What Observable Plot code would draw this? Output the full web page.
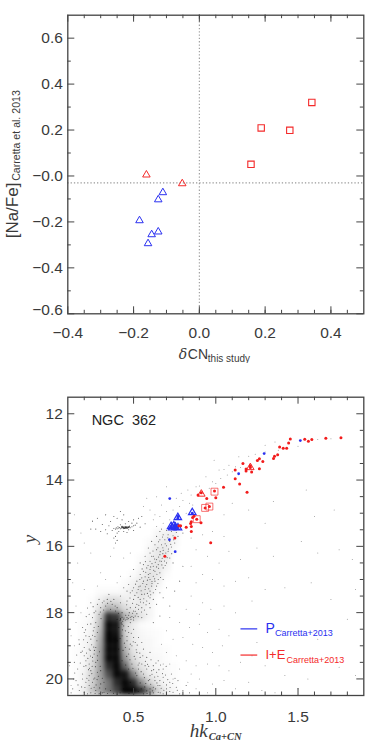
<!DOCTYPE html>
<html><head><meta charset="utf-8">
<script src="https://cdn.jsdelivr.net/npm/d3@7"></script>
<script src="https://cdn.jsdelivr.net/npm/@observablehq/plot@0.6"></script>
<style>html,body{margin:0;padding:0;background:#fff;width:374px;height:748px;overflow:hidden}
svg{position:absolute;left:0;background:transparent;max-width:none}</style>
</head><body>
<div id="a"></div><div id="b"></div>
<script>
// ---- upper panel
const topRedSquares=[[.342,.32],[.188,.209],[.275,.199],[.157,.051]];
const topRedTriangles=[[-.161,.005],[-.052,-.033]];
const topBlueTriangles=[[-.111,-.072],[-.125,-.103],[-.182,-.194],[-.125,-.243],[-.145,-.255],[-.156,-.294]];
const topXTicks=[-.4,-.2,0,.2,.4];
const topYTicks=[.6,.4,.2,0,-.2,-.4];
// ---- lower panel: programme stars
const redStars=[[1.761,12.72],[1.669,12.74],[1.584,12.78],[1.563,12.83],[1.541,12.77],[1.453,12.76],[1.443,12.88],[1.431,13.04],[1.41,13.04],[1.388,13.0],[1.376,13.24],[1.357,13.28],[1.351,13.35],[1.286,13.44],[1.265,13.36],[1.253,13.41],[1.165,13.5],[1.21,13.57],[1.184,13.67],[1.184,13.73],[1.218,13.76],[1.265,13.66],[1.118,13.7],[1.118,13.96],[1.145,14.12],[1.19,14.37],[1.047,14.22],[1.0,14.53],[.992,14.33],[.945,14.56],[.912,14.38],[.892,14.45],[.935,14.84],[.961,14.8],[.884,15.18],[.867,15.09],[.91,15.29],[.859,15.13],[.851,15.26],[.847,15.31],[.851,15.4],[.82,15.42],[.851,15.55],[.776,15.38],[.786,15.38],[.751,15.75],[.969,15.89],[.69,16.3],[1.21,13.62]];
const blueStars=[[1.514,12.81],[1.294,13.2],[1.139,13.81],[.72,14.56],[.718,15.8],[.753,16.16],[.769,15.15],[.857,15.0],[.728,15.4],[.745,15.4],[.755,15.42],[.765,15.44],[.735,15.44],[.75,15.36],[.72,15.44],[.77,15.1]];
const cmdRedSquares=[[.992,14.35],[.935,14.84],[.961,14.8],[.884,15.18]];
const cmdRedTriangles=[[.912,14.42],[1.21,13.62]];
const cmdBlueTriangles=[[.769,15.13],[.857,14.98],[.728,15.4],[.745,15.38],[.755,15.42],[.77,15.44],[.735,15.44]];
// ---- lower panel: star density of the unresolved sequences
const densHk=[.15,.2,.25,.3,.35,.4,.45,.5,.55,.6,.65,.7,.75];
const densY=[15.625,15.875,16.125,16.375,16.625,16.875,17.125,17.375,17.625,17.875,18.125,18.375,18.625,18.875,19.125,19.375,19.625,19.875,20.125,20.375];
const densRows=[
[0,0,0,0,0,0,0,0,0,0,.04,.06,.06],
[0,0,0,0,0,0,0,0,0,.02,.06,.08,.04],
[0,0,0,0,0,0,0,0,0,.04,.09,.09,.02],
[0,0,0,0,0,0,0,0,.02,.06,.1,.08,0],
[0,0,0,0,0,0,0,0,.04,.09,.1,.05,0],
[0,0,0,0,0,0,0,.02,.06,.11,.09,.02,0],
[0,0,0,0,0,0,.02,.05,.1,.12,.05,0,0],
[0,0,0,.02,.02,.02,.04,.08,.12,.09,.02,0,0],
[0,0,.01,.06,.13,.13,.07,.06,.09,.05,0,0,0],
[0,0,.02,.12,.3,.26,.14,.08,.08,.04,0,0,0],
[0,.01,.03,.22,.85,.8,.3,.2,.1,.04,0,0,0],
[0,.02,.05,.25,1,.95,.18,.07,.02,.01,0,0,0],
[0,.02,.06,.3,1,.95,.18,.07,.03,.02,.01,0,0],
[0,.03,.08,.35,1,1,.22,.08,.04,.03,.01,0,0],
[.01,.03,.1,.38,1,1,.3,.1,.05,.03,.02,.01,0],
[.01,.03,.12,.38,1,1,.4,.14,.07,.04,.03,.01,0],
[.01,.04,.14,.38,.85,1,.6,.22,.1,.05,.03,.02,.01],
[.01,.05,.18,.38,.7,1,.95,.5,.18,.08,.05,.03,.01],
[.01,.05,.18,.38,.55,.85,1,.85,.45,.18,.08,.04,.02],
[.02,.07,.22,.38,.55,.75,1,1,.85,.5,.18,.07,.03]];
// ---- lower panel: individual faint stars, read region by region
const msScatter=[.2,18.6,.22,18.9,.18,19.2,.21,19.45,.16,19.7,.19,20.0,.23,20.2,.17,20.35,.24,19.75,.22,18.35,.25,18.15,.27,17.95,.28,17.75,.31,17.7,.34,17.6,.37,17.75,.4,17.85,.43,18.0,.44,18.4,.47,18.6,.46,18.85,.49,19.0,.52,19.2,.51,19.4,.55,19.55,.58,19.7,.6,19.9,.63,20.05,.66,20.2,.7,20.3,.74,20.4,.78,20.45,.24,18.8,.26,19.25,.27,19.5,.25,20.1,.27,20.35,.22,20.45,.29,20.45,.33,20.3,.26,18.45,.29,18.05,.3,17.85,.33,17.8,.36,17.9,.42,18.2,.41,18.45,.43,18.7,.45,19.05,.47,19.25,.49,19.55,.53,19.7,.56,19.85,.59,20.05,.62,20.25,.65,20.4,.68,20.45,.23,19.1,.2,19.3,.19,19.85,.21,20.1,.15,20.05,.13,20.3,.14,19.5,.17,18.95,.19,18.45,.23,18.05,.24,17.7,.29,17.6,.35,17.45,.38,17.6,.42,17.7,.46,17.9,.48,18.3,.5,18.5,.53,18.75,.51,18.9,.56,19.1,.58,19.35,.62,19.6,.64,19.8,.68,19.95,.72,20.1,.76,20.25,.8,20.35,.84,20.42,.23,19.55,.25,19.35,.28,19.8,.3,20.15,.24,20.42,.2,20.4,.45,18.55,.48,18.95,.54,19.35,.57,19.6,.61,19.75,.66,20.05,.7,20.18,.27,18.3,.28,18.6,.27,19.05,.28,19.3,.3,19.75,.32,20.1,.36,20.35,.4,20.46,.44,20.3,.5,20.3,.54,20.12,.58,20.36,.62,20.42,.48,20.1,.52,19.9,.47,19.7,.43,19.45,.41,19.1,.4,18.85,.6,20.3,.72,20.38,.56,20.45,.31,20.42,.26,20.25,.23,19.9,.21,19.6,.2,19.05,.21,18.7,.26,18.0,.32,17.65,.39,17.95,.43,18.35,.46,18.2,.5,18.75,.55,18.9,.6,19.2,.65,19.45,.68,19.7,.73,19.85,.77,20.05,.82,20.2];
const msScatter2=[.255,18.55,.265,18.72,.245,18.97,.262,19.14,.238,19.31,.252,19.46,.268,19.63,.232,19.68,.246,19.84,.264,19.97,.228,20.04,.242,20.28,.272,20.18,.286,18.42,.277,18.85,.293,19.18,.281,19.44,.297,19.62,.286,19.92,.294,20.27,.302,18.18,.298,17.98,.318,17.92,.342,17.72,.362,17.66,.388,17.8,.408,18.02,.425,18.31,.432,18.52,.418,18.78,.444,18.92,.436,19.14,.458,19.32,.452,19.58,.478,19.42,.496,19.68,.512,19.82,.534,19.52,.546,19.78,.566,19.96,.585,19.56,.574,20.14,.598,20.02,.612,19.86,.628,19.94,.642,20.12,.654,19.72,.668,20.28,.682,20.1,.694,19.88,.708,20.02,.722,20.26,.738,20.14,.752,19.98,.766,20.34,.442,18.16,.468,18.42,.486,18.62,.498,18.88,.522,18.98,.516,19.12,.538,19.22,.556,19.3,.572,19.47,.592,19.62,.606,19.42,.622,19.72,.636,19.52,.648,19.92,.664,19.58,.676,19.84,.698,19.62,.46,18.72,.474,19.1,.504,19.32,.528,19.58,.528,20.38,.546,20.3,.568,20.24,.582,20.44,.604,20.16,.616,20.36,.634,20.3,.648,20.2,.662,20.42,.684,20.34,.7,20.44,.176,19.52,.188,19.16,.168,18.82,.196,18.82,.208,18.52,.212,18.12,.22,17.86,.254,17.82,.154,19.28,.142,19.82,.162,20.18,.184,20.24,.204,20.26,.216,19.98,.226,19.72,.198,19.62,.12,20.42,.135,20.0,.24,18.34,.25,18.68,.23,18.72,.214,19.22,.222,19.38,.236,19.14,.258,19.04,.248,19.62,.258,20.0,.266,20.44,.278,20.02,.296,20.43,.31,19.98,.32,20.4,.342,20.44,.378,20.43,.418,20.42,.472,20.44];
const sgbRgb=[.4,18.2,.42,18.18,.44,18.2,.46,18.15,.48,18.14,.49,18.12,.5,18.15,.51,18.1,.43,18.14,.45,18.22,.47,18.08,.52,18.03,.53,17.9,.5,17.95,.55,17.85,.48,17.85,.52,17.75,.56,17.7,.54,17.6,.58,17.65,.5,17.6,.46,17.65,.59,17.5,.55,17.45,.52,17.4,.57,17.3,.6,17.35,.62,17.4,.48,17.4,.5,17.25,.54,17.2,.58,17.15,.61,17.2,.64,17.2,.63,17.05,.6,17.0,.56,17.05,.52,17.05,.47,17.15,.44,17.25,.65,17.0,.62,16.9,.59,16.85,.57,16.92,.54,16.85,.6,16.7,.63,16.75,.66,16.8,.58,16.65,.62,16.6,.65,16.55,.68,16.65,.56,16.55,.6,16.45,.64,16.4,.67,16.45,.7,16.5,.62,16.3,.66,16.25,.69,16.3,.6,16.2,.64,16.1,.68,16.12,.71,16.15,.63,15.95,.67,15.95,.7,15.98,.73,16.02,.66,15.8,.69,15.8,.72,15.85,.75,15.9,.68,15.65,.71,15.65,.74,15.68,.77,15.7,.7,15.52,.66,15.55,.73,15.55,.76,15.58,.8,15.6,.72,16.35,.74,16.5,.68,17.0,.7,17.25,.66,17.4,.62,17.6,.6,17.85,.58,18.05,.55,18.15,.62,18.3,.66,18.1,.72,17.8,.48,16.9,.5,16.7,.46,17.35,.42,17.5,.54,16.5,.57,16.3,.59,16.05,.61,15.85,.64,15.7,.67,15.48,.56,16.75,.6,17.55,.64,17.75,.68,17.55,.75,17.35,.78,17.05,.8,16.6,
.652,15.86,.676,15.72,.692,15.92,.708,15.74,.726,15.94,.744,15.8,.648,16.04,.662,16.16,.678,16.04,.696,16.2,.712,16.08,.732,16.22,.618,16.14,.628,16.38,.652,16.32,.674,16.36,.688,16.44,.704,16.34,.612,16.52,.632,16.48,.652,16.66,.672,16.56,.692,16.58,.572,16.46,.588,16.58,.604,16.62,.622,16.72,.642,16.84,.664,16.94,.552,16.68,.574,16.78,.592,16.94,.612,17.06,.628,16.98,.648,17.12,.538,17.0,.556,17.12,.572,17.22,.592,17.28,.612,17.12,.634,17.3,.512,17.14,.528,17.3,.546,17.34,.566,17.44,.584,17.42,.604,17.46,.492,17.34,.508,17.48,.528,17.54,.542,17.68,.562,17.58,.576,17.76,.596,17.72,.478,17.56,.494,17.72,.512,17.84,.532,17.78,.548,17.98,.566,17.92,.458,17.76,.474,18.0,.494,18.02,.51,17.96,.528,18.12,.452,18.08,.468,18.18,.484,18.2,.5,18.22,.418,18.24,.434,18.26,.55,16.95,.532,17.22,.584,17.02,.6,16.82,.64,16.62,.66,16.44,.61,16.3,.678,16.22];
const hbClump=[.45,15.43,.44,15.44,.455,15.42,.46,15.45,.445,15.46,.44,15.41,.45,15.46,.46,15.41,.435,15.44,.47,15.43,.43,15.42,.425,15.45,.42,15.47,.415,15.43,.41,15.45,.405,15.41,.4,15.47,.395,15.44,.39,15.48,.38,15.46,.475,15.39,.48,15.44,.49,15.41,.5,15.38,.51,15.36,.52,15.3,.47,15.5,.44,15.55,.42,15.35,.4,15.6,.39,15.7,.37,15.52,.35,15.38,.43,15.2,.47,15.25,.5,15.2,.53,15.15,.5,15.52,.54,15.42,.33,15.5,.31,15.34,.28,15.15,.25,15.24,.27,15.48,.24,15.48,.3,15.55,.36,15.25,.4,15.15,.44,15.05,.42,14.95,.38,15.1,.33,15.05,.55,15.1,.57,15.32,.45,15.32,.46,15.58,.38,15.75,.39,15.9,.4,15.82,.34,15.62,.49,15.3,.41,15.55];
const hbCore=[[.44,15.45],[.45,15.42],[.46,15.44],[.43,15.41],[.47,15.42]];
const upperGiants=[.62,15.2,.63,15.05,.66,15.1,.64,15.4,.68,15.3,.7,14.95,.72,15.2,.67,14.75,.74,14.9,.78,14.8,.76,14.55,.8,14.62,.83,14.3,.79,14.4,.85,14.45,.88,14.2,.9,14.18,.84,14.7,.82,15.0,.86,14.75,.96,14.25,.98,14.05,1.0,14.1,.94,13.9,1.03,13.95,1.07,13.85,1.1,13.75,1.12,13.6,1.05,13.68,1.08,13.55,1.15,13.62,1.02,13.7,.99,13.4,1.14,13.3,1.2,13.28,1.24,13.22,1.3,13.15,1.38,13.1,1.3,12.95,1.36,12.85,1.5,12.98,1.62,12.78,1.7,12.75,.7,14.2,.64,14.5,.58,14.55,.6,14.9,.56,14.8];
const field=[.85,15.75,.92,15.65,.98,15.55,1.05,15.7,.88,16.1,.95,16.3,1.02,16.5,1.08,16.15,1.15,16.4,1.25,16.05,1.35,16.3,1.52,15.85,1.62,16.2,1.75,16.1,1.83,16.4,.85,16.6,.92,16.85,.88,17.1,.98,17.0,1.05,17.2,1.12,17.05,1.2,16.95,1.3,17.3,1.42,17.25,1.58,17.1,1.7,17.6,1.85,17.3,.85,17.5,.92,17.7,.82,17.9,.9,18.05,.97,17.9,1.05,17.8,1.12,18.0,1.22,17.65,.72,18.15,.78,18.3,.84,18.45,.9,18.35,.95,18.6,1.02,18.5,1.08,18.7,.7,18.55,.74,18.8,.8,18.75,.86,18.95,.92,19.05,.98,19.2,1.04,19.0,.67,18.95,.7,19.2,.76,19.3,.82,19.45,.88,19.6,.95,19.55,1.02,19.6,1.08,19.75,1.15,19.5,1.22,19.3,1.3,19.6,1.42,19.9,1.56,20.0,1.75,19.65,1.85,19.9,.72,19.55,.78,19.7,.85,19.85,.9,20.0,.98,20.15,1.05,20.05,1.12,20.3,1.2,20.1,1.28,20.35,1.36,20.42,1.5,20.3,.88,20.3,.95,20.42,.83,20.1,.68,19.55,.74,20.0,.14,15.05,.18,15.6,.2,15.9,.16,16.5,.13,17.1,.2,17.3,.15,17.8,.24,16.2,.3,16.8,.36,16.3,.28,17.2,.33,17.0,.42,16.9,.38,16.05,.44,16.35,.48,16.2,.4,17.1,.12,18.7,.14,19.0,.11,19.6,.12,20.2,.15,18.3,.18,18.0,1.25,18.9,1.4,18.55,1.62,18.8,1.8,18.2,1.35,14.65,1.55,14.3,1.6,15.1,1.72,14.9,1.3,15.3,1.2,14.9,1.1,14.7,1.05,15.05];
const legendSpan=[1.153,1.255];
const cmdXTicks=[.5,1,1.5];
const cmdYTicks=[12,14,16,18,20];

const pairs=a=>d3.range(0,a.length,2).map(i=>[a[i],a[i+1]]);
const densCells=densRows.flatMap((row,i)=>row.map((v,j)=>({hk:densHk[j],y:densY[i],v})).filter(c=>c.v>0));
const frameCol="#444", txtCol="#3a3a3a", red="#f42a2a", blue="#2a30f0";
const FONT="'Liberation Sans',Arial,sans-serif";
const tsize=15.5;

function frameMarks(xMaj,xMin,yMaj,yMin,W,H){
  const s={stroke:frameCol,strokeWidth:1};
  return [
    Plot.tickX(xMaj,{x:d=>d,insetTop:H-7,...s}),Plot.tickX(xMaj,{x:d=>d,insetBottom:H-7,...s}),
    Plot.tickX(xMin,{x:d=>d,insetTop:H-3.5,...s}),Plot.tickX(xMin,{x:d=>d,insetBottom:H-3.5,...s}),
    Plot.tickY(yMaj,{y:d=>d,insetRight:W-7,...s}),Plot.tickY(yMaj,{y:d=>d,insetLeft:W-7,...s}),
    Plot.tickY(yMin,{y:d=>d,insetRight:W-3.5,...s}),Plot.tickY(yMin,{y:d=>d,insetLeft:W-3.5,...s}),
    Plot.frame({stroke:frameCol,strokeWidth:1.3})
  ];
}
const fmt=d=>(d<0?"\u2212":"")+Math.abs(d).toFixed(1);

// ---------- top
const topSvg=Plot.plot({
  width:374,height:363.3,marginLeft:67.3,marginRight:10.7,marginTop:14.7,marginBottom:50,
  style:{fontFamily:FONT,background:"transparent"},
  x:{domain:[-.4,.5],axis:null},y:{domain:[-.6,.7],axis:null},
  marks:[
    Plot.ruleX([0],{stroke:"#999",strokeDasharray:"1.3,2",strokeWidth:1.1}),
    Plot.ruleY([-.03],{stroke:"#999",strokeDasharray:"1.3,2",strokeWidth:1.1}),
    ...frameMarks(topXTicks,d3.range(-.35,.5,.05),topYTicks.concat([-.6]),d3.range(-.5,.7,.2),296,298.6),
    Plot.dot(topRedSquares,{x:d=>d[0],y:d=>d[1],symbol:"square",r:3.6,stroke:red,strokeWidth:1.1,fill:"none"}),
    Plot.dot(topRedTriangles,{x:d=>d[0],y:d=>d[1],symbol:"triangle",r:2.8,stroke:red,strokeWidth:1,fill:"none"}),
    Plot.dot(topBlueTriangles,{x:d=>d[0],y:d=>d[1],symbol:"triangle",r:2.8,stroke:blue,strokeWidth:1,fill:"none"}),
    Plot.text(topXTicks,{x:d=>d,text:fmt,frameAnchor:"bottom",dy:24,lineAnchor:"bottom",fontSize:tsize,fill:txtCol}),
    Plot.text(topYTicks,{y:d=>d,text:d=>d===0?"\u22120.0":fmt(d),frameAnchor:"left",textAnchor:"end",dx:-5,fontSize:tsize,fill:txtCol}),
    Plot.text([-.6],{y:d=>d,text:fmt,frameAnchor:"left",textAnchor:"end",dx:-5,dy:-4,fontSize:tsize,fill:txtCol}),
    Plot.text(["\u03b4"],{frameAnchor:"bottom",dx:-37,dy:45,textAnchor:"start",lineAnchor:"bottom",fontStyle:"italic",fontFamily:"'DejaVu Serif',serif",fontSize:14,fill:txtCol}),
    Plot.text(["CN"],{frameAnchor:"bottom",dx:-28,dy:45,textAnchor:"start",lineAnchor:"bottom",fontSize:14,fill:txtCol}),
    Plot.text(["this study"],{frameAnchor:"bottom",dx:-8,dy:48,textAnchor:"start",lineAnchor:"bottom",fontSize:10,fill:txtCol}),
    Plot.text(["[Na/Fe]"],{frameAnchor:"left",dx:-55,dy:46,rotate:-90,textAnchor:"middle",fontSize:17,fill:txtCol}),
    Plot.text(["Carretta et al. 2013"],{frameAnchor:"left",dx:-51,dy:-29,rotate:-90,textAnchor:"middle",fontSize:10.6,fill:txtCol})
  ]
});
topSvg.style.top="0px";
document.getElementById("a").append(topSvg);

// ---------- bottom
const tiny={x:d=>d[0],y:d=>d[1],fill:"#000",stroke:"none",clip:true};
const botSvg=Plot.plot({
  width:374,height:368,marginLeft:67.3,marginRight:10.7,marginTop:16.7,marginBottom:53,
  style:{fontFamily:FONT,background:"transparent"},
  x:{domain:[.1,1.9],axis:null},y:{domain:[20.5,11.5],axis:null},
  marks:[
    Plot.rect(densCells,{x1:d=>d.hk-.025,x2:d=>d.hk+.025,y1:d=>d.y-.125,y2:d=>d.y+.125,fill:"#000",fillOpacity:d=>d.v,imageFilter:"blur(2.5px)",clip:true}),
    Plot.dot(pairs(msScatter),{...tiny,r:.55,fillOpacity:.6}),
    Plot.dot(pairs(msScatter2),{...tiny,r:.55,fillOpacity:.6}),
    Plot.dot(pairs(sgbRgb),{...tiny,r:.55,fillOpacity:.6}),
    Plot.dot(pairs(hbClump),{...tiny,r:.55,fillOpacity:.65}),
    Plot.dot(hbCore,{...tiny,r:1.1,fillOpacity:.55}),
    Plot.dot(pairs(upperGiants),{...tiny,r:.5,fillOpacity:.42}),
    Plot.dot(pairs(field),{...tiny,r:.5,fillOpacity:.42}),
    Plot.dot(cmdBlueTriangles,{x:d=>d[0],y:d=>d[1],symbol:"triangle",r:2.8,stroke:blue,strokeWidth:1.2,fill:"none"}),
    Plot.dot(cmdRedTriangles,{x:d=>d[0],y:d=>d[1],symbol:"triangle",r:2.8,stroke:red,strokeWidth:1,fill:"none"}),
    Plot.dot(cmdRedSquares,{x:d=>d[0],y:d=>d[1],symbol:"square",r:3.9,stroke:red,strokeWidth:1,strokeOpacity:.65,fill:"none"}),
    Plot.dot(blueStars,{x:d=>d[0],y:d=>d[1],r:1.4,fill:blue,stroke:"none"}),
    Plot.dot(redStars,{x:d=>d[0],y:d=>d[1],r:1.5,fill:"#f21c1c",stroke:"none"}),
    ...frameMarks(cmdXTicks,d3.range(.2,1.9,.1).filter(v=>Math.abs(v*2-Math.round(v*2))>.01),cmdYTicks,d3.range(12.5,20.5,.5).filter(v=>v%2!==0),296,298.3),
    Plot.text(["NGC\u00a0\u00a0362"],{x:()=>.245,y:()=>12.19,textAnchor:"start",fontSize:14.5,fill:"#222"}),
    Plot.text(cmdXTicks,{x:d=>d,text:d=>d.toFixed(1),frameAnchor:"bottom",dy:26,lineAnchor:"bottom",fontSize:tsize,fill:txtCol}),
    Plot.text(cmdYTicks,{y:d=>d,text:String,frameAnchor:"left",textAnchor:"end",dx:-5,fontSize:tsize,fill:txtCol}),
    Plot.text(["y"],{frameAnchor:"left",dx:-38,dy:-3,rotate:-90,fontStyle:"italic",fontFamily:"'Liberation Serif',serif",fontSize:19,fill:txtCol}),
    Plot.text(["hk"],{frameAnchor:"bottom",dx:-17,dy:41,textAnchor:"middle",lineAnchor:"bottom",fontStyle:"italic",fontFamily:"'Liberation Serif',serif",fontSize:19,fill:txtCol}),
    Plot.text(["Ca+CN"],{frameAnchor:"bottom",dx:-7,dy:44,textAnchor:"start",lineAnchor:"bottom",fontStyle:"italic",fontWeight:"bold",fontFamily:"'Liberation Serif',serif",fontSize:10.5,fill:txtCol}),
    Plot.ruleY([18.49],{x1:()=>legendSpan[0],x2:()=>legendSpan[1],stroke:blue,strokeWidth:1.2}),
    Plot.ruleY([19.28],{x1:()=>legendSpan[0],x2:()=>legendSpan[1],stroke:red,strokeWidth:1.2}),
    Plot.text(["P"],{x:()=>1.302,y:()=>18.48,textAnchor:"start",fontSize:14,fill:blue}),
    Plot.text(["Carretta+2013"],{x:()=>1.36,y:()=>18.63,textAnchor:"start",fontSize:9,fill:blue}),
    Plot.text(["I+E"],{x:()=>1.302,y:()=>19.28,textAnchor:"start",fontSize:13,fill:red}),
    Plot.text(["Carretta+2013"],{x:()=>1.43,y:()=>19.43,textAnchor:"start",fontSize:9,fill:red})
  ]
});
botSvg.style.top="380px";
document.getElementById("b").append(botSvg);
</script>
</body></html>
